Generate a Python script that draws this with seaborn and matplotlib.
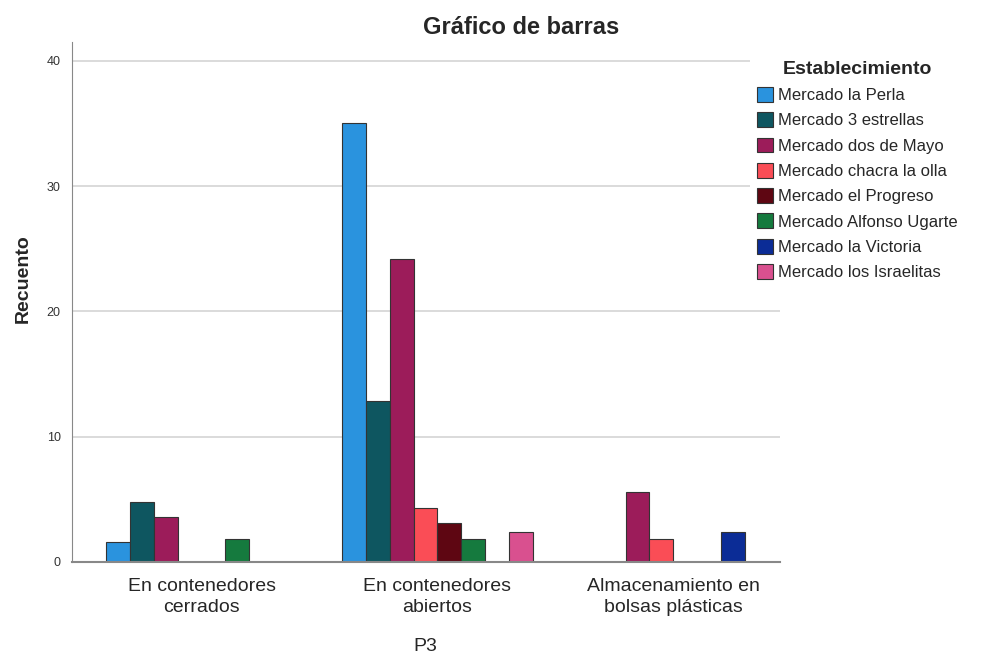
import pandas as pd
import matplotlib.pyplot as plt
import seaborn as sns

categorias = ["En contenedores\ncerrados", "En contenedores\nabiertos",
              "Almacenamiento en\nbolsas plásticas"]
mercados = ["Mercado la Perla", "Mercado 3 estrellas", "Mercado dos de Mayo",
            "Mercado chacra la olla", "Mercado el Progreso", "Mercado Alfonso Ugarte",
            "Mercado la Victoria", "Mercado los Israelitas"]
colores = ["#2a93de", "#0e5660", "#9c1c5a", "#fa4d56", "#5e0612", "#157a3e",
           "#0b2c96", "#d9508f"]

# recuento por categoria (None = sin barra)
cerrados = [1.6, 4.8, 3.6, None, None, 1.8, None, None]
abiertos = [35.0, 12.8, 24.2, 4.3, 3.1, 1.8, None, 2.4]
bolsas = [None, None, 5.6, 1.8, None, None, 2.4, None]

rows = []
for cat, vals in zip(categorias, [cerrados, abiertos, bolsas]):
    for m, v in zip(mercados, vals):
        if v is not None:
            rows.append({"P3": cat, "Establecimiento": m, "Recuento": v})
df = pd.DataFrame(rows)

sns.set_style("white")
plt.rcParams['font.family'] = ['Liberation Sans', 'DejaVu Sans']

fig = plt.figure(figsize=(9.83, 6.57), dpi=100)
ax = fig.add_axes([0.073, 0.145, 0.72, 0.791])

sns.barplot(data=df, x="P3", y="Recuento", hue="Establecimiento",
            order=categorias, hue_order=mercados, palette=colores,
            saturation=1, width=0.81, edgecolor="#333333", linewidth=0.8, ax=ax)

ax.set_ylim(0, 41.5)
ax.set_xlim(-0.55, 2.45)
ax.set_yticks([0, 10, 20, 30, 40])
ax.yaxis.grid(True, color="#d4d4d4", linewidth=1.2)
ax.set_axisbelow(True)
for s in ["top", "right"]:
    ax.spines[s].set_visible(False)
ax.spines["left"].set_color("#888888")
ax.spines["bottom"].set_color("#888888")
ax.spines["bottom"].set_linewidth(1.5)
ax.tick_params(axis="y", labelsize=9, colors="#333333", length=0, pad=8)
ax.tick_params(axis="x", labelsize=14, length=0, pad=12)
for t in ax.get_xticklabels():
    t.set_linespacing(1.25)
ax.set_xlabel("P3", fontsize=14, labelpad=16)
ax.set_ylabel("Recuento", fontsize=14, fontweight="bold")
ax.yaxis.set_label_coords(-0.057, 0.545)
ax.set_title("Gráfico de barras", fontsize=17, fontweight="bold", pad=6, x=0.635)

leg = ax.legend(title="Establecimiento", loc="upper left",
                bbox_to_anchor=(750 / 983, 1 - 54 / 657),
                bbox_transform=fig.transFigure,
                frameon=True, facecolor="white", edgecolor="none", framealpha=1,
                fontsize=12, title_fontsize=14,
                handlelength=1.0, handleheight=1.0, handletextpad=0.3,
                labelspacing=0.55, borderaxespad=0, borderpad=0.4)
leg.get_title().set_fontweight("bold")

fig.savefig("out.png", dpi=100)
